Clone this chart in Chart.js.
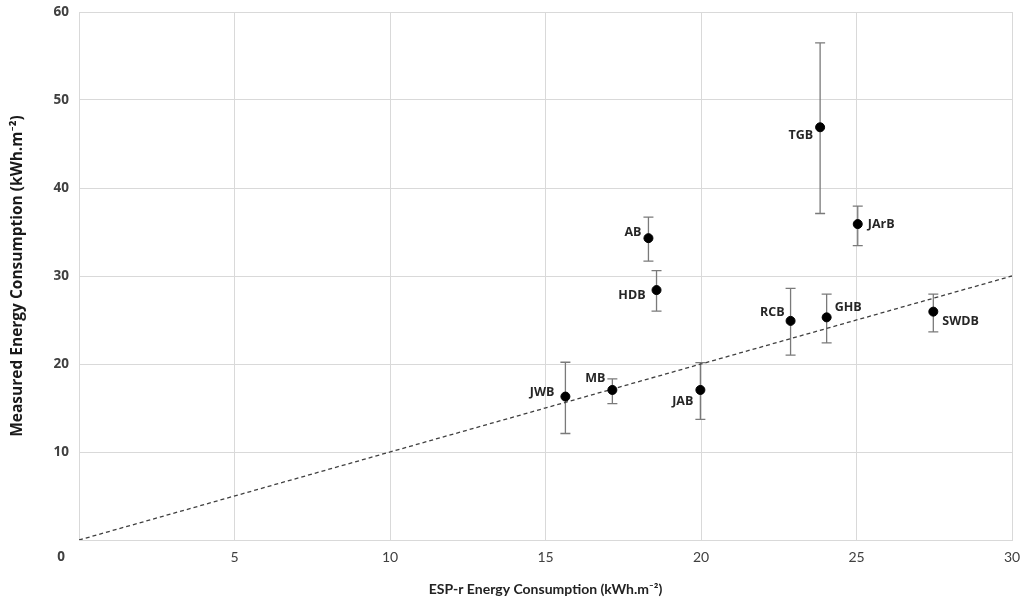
<!DOCTYPE html>
<html>
<head>
<meta charset="utf-8">
<script src="https://cdn.jsdelivr.net/npm/chart.js@4.4.1/dist/chart.umd.min.js"></script>
<style>
  html, body { margin: 0; padding: 0; background: #ffffff; }
  #wrap { width: 1023px; height: 601px; }
</style>
</head>
<body>
<div id="wrap"><canvas id="chart" width="1023" height="601"></canvas></div>
<script>
// Building codes and their simulated vs measured energy use
const buildings   = ['JWB', 'MB', 'JAB', 'AB', 'HDB', 'TGB', 'JArB', 'RCB', 'GHB', 'SWDB'];
const simulated   = [15.64, 17.15, 19.98, 18.31, 18.57, 23.83, 25.04, 22.88, 24.04, 27.47];
const measured    = [16.3, 17.05, 17.05, 34.3, 28.4, 46.9, 35.9, 24.9, 25.3, 25.95];
const measuredLow = [12.1, 15.5, 13.7, 31.7, 26.0, 37.1, 33.45, 21.0, 22.4, 23.65];
const measuredHigh= [20.2, 18.3, 20.15, 36.7, 30.6, 56.5, 37.95, 28.6, 27.95, 27.95];

// Axis ranges and the 1:1 reference line
const xTicks = [0, 5, 10, 15, 20, 25, 30];
const yTicks = [0, 10, 20, 30, 40, 50, 60];
const parityLine = [0, 30];

// Where each building's name sits relative to its marker (px)
const labelPlacement = [
  { dx: -11, dy: -4,  align: 'right' },
  { dx: -7,  dy: -12, align: 'right' },
  { dx: -7,  dy: 11,  align: 'right' },
  { dx: -7,  dy: -6,  align: 'right' },
  { dx: -11, dy: 5,   align: 'right' },
  { dx: -7,  dy: 8,   align: 'right' },
  { dx: 10,  dy: 0,   align: 'left'  },
  { dx: -6,  dy: -8,  align: 'right' },
  { dx: 8,   dy: -10, align: 'left'  },
  { dx: 9,   dy: 10,  align: 'left'  }
];

const FONT = 'Lato, "Open Sans", "DejaVu Sans", sans-serif';
const BOLD_FONT = '"Open Sans", Lato, "DejaVu Sans", sans-serif';
const GRID = '#d9d9d9';

const points = buildings.map((b, i) => ({ x: simulated[i], y: measured[i] }));

// Vertical error bars with end caps, drawn from the measured range
const errorBars = {
  id: 'errorBars',
  beforeDatasetsDraw(chart) {
    const { ctx, scales: { x, y } } = chart;
    ctx.save();
    ctx.strokeStyle = '#7a7a7a';
    ctx.lineWidth = 1.3;
    buildings.forEach((b, i) => {
      const px = x.getPixelForValue(simulated[i]);
      const top = y.getPixelForValue(measuredHigh[i]);
      const bot = y.getPixelForValue(measuredLow[i]);
      ctx.beginPath();
      ctx.moveTo(px, top); ctx.lineTo(px, bot);
      ctx.moveTo(px - 5, top); ctx.lineTo(px + 5, top);
      ctx.moveTo(px - 5, bot); ctx.lineTo(px + 5, bot);
      ctx.stroke();
    });
    ctx.restore();
  }
};

// Building names beside each marker, plus the shared origin label
const pointLabels = {
  id: 'pointLabels',
  afterDatasetsDraw(chart) {
    const { ctx, scales: { x, y } } = chart;
    ctx.save();
    ctx.font = 'bold 12.5px ' + BOLD_FONT;
    ctx.fillStyle = '#262626';
    ctx.textBaseline = 'middle';
    buildings.forEach((b, i) => {
      const p = labelPlacement[i];
      ctx.textAlign = p.align;
      ctx.fillText(b, x.getPixelForValue(simulated[i]) + p.dx, y.getPixelForValue(measured[i]) + p.dy);
    });
    ctx.font = 'bold 13.5px ' + BOLD_FONT;
    ctx.fillStyle = '#404040';
    ctx.textAlign = 'center';
    ctx.fillText(String(yTicks[0]), x.left - 18, y.bottom + 17);
    ctx.restore();
  }
};

new Chart(document.getElementById('chart'), {
  type: 'scatter',
  data: {
    datasets: [
      {
        label: 'Buildings',
        data: points,
        backgroundColor: '#000000',
        borderColor: '#000000',
        pointRadius: 4.5,
        pointHoverRadius: 4.5,
        order: 1
      },
      {
        type: 'line',
        label: '1:1',
        data: parityLine.map(v => ({ x: v, y: v })),
        borderColor: '#404040',
        borderWidth: 1.3,
        borderDash: [4, 3],
        pointRadius: 0,
        fill: false,
        order: 2
      }
    ]
  },
  options: {
    responsive: false,
    animation: false,
    devicePixelRatio: 1,
    layout: { padding: { top: 12, right: 11, left: 0, bottom: 0 } },
    plugins: {
      legend: { display: false },
      tooltip: { enabled: false }
    },
    scales: {
      x: {
        type: 'linear',
        min: xTicks[0],
        max: xTicks[xTicks.length - 1],
        afterBuildTicks(axis) { axis.ticks = xTicks.map(v => ({ value: v })); },
        afterFit(axis) { axis.height = 61; axis.paddingLeft = 0; axis.paddingRight = 0; },
        grid: { color: GRID, lineWidth: 1, drawTicks: false },
        border: { color: GRID },
        ticks: {
          padding: 9,
          color: '#404040',
          font: { family: FONT, size: 14 },
          callback: v => (v === 0 ? '' : String(v))
        },
        title: {
          display: true,
          text: 'ESP-r Energy Consumption (kWh.m⁻²)',
          color: '#222222',
          font: { family: FONT, size: 14, weight: 'bold' },
          padding: { top: 0, bottom: 3 }
        }
      },
      y: {
        type: 'linear',
        min: yTicks[0],
        max: yTicks[yTicks.length - 1],
        afterBuildTicks(axis) { axis.ticks = yTicks.map(v => ({ value: v })); },
        afterFit(axis) { axis.width = 79; axis.paddingTop = 0; axis.paddingBottom = 0; },
        grid: { color: GRID, lineWidth: 1, drawTicks: false },
        border: { color: GRID },
        ticks: {
          padding: 10,
          color: '#404040',
          font: { family: BOLD_FONT, size: 13.5, weight: 'bold' },
          callback: v => (v === 0 ? '' : String(v))
        },
        title: {
          display: true,
          text: 'Measured Energy Consumption (kWh.m⁻²)',
          color: '#1a1a1a',
          font: { family: BOLD_FONT, size: 15.5, weight: 'bold' },
          padding: { top: 8, bottom: 0 }
        }
      }
    }
  },
  plugins: [errorBars, pointLabels]
});
</script>
</body>
</html>
